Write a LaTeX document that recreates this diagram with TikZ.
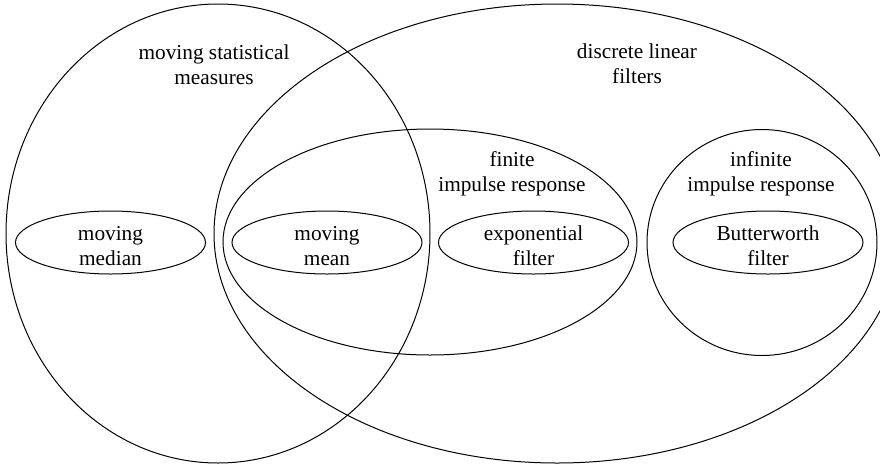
\documentclass[tikz,border=0pt]{standalone}
\usepackage{fontspec}
\setmainfont{Liberation Serif}
\usetikzlibrary{shapes.geometric}
\tikzstyle{set} = [ellipse, draw=black, line width=0.5pt, inner sep=0pt]
\tikzstyle{method} = [set, minimum width=95pt, minimum height=31.5pt]
\tikzstyle{lbl} = [align=center, font=\fontsize{10.65}{12.6}\selectfont, inner sep=0pt]

\begin{document}
\begin{tikzpicture}[x=0.5pt, y=-0.5pt]
            \useasboundingbox (0,0) rectangle (880,468);
            \clip (0,0) rectangle (880,468);
            % outer sets
            \node[set, minimum width=212pt, minimum height=229.5pt] (stat) at (218,233.5) {};
            \node[set, minimum width=343pt, minimum height=229.5pt] (lin) at (557,233.5) {};
            % filter classes
            \node[set, minimum width=207pt, minimum height=113pt] (fir) at (430,242) {};
            \node[set, minimum width=115pt, minimum height=113pt] (iir) at (762,242.5) {};
            % methods
            \node[method] (median) at (110.5,242.5) {};
            \node[method] (mean) at (327,242.5) {};
            \node[method] (expo) at (533.5,242.5) {};
            \node[method] (butter) at (768,242.5) {};
            
            \node[lbl] (statlbl) at (214,65) {moving statistical\\measures};
            \node[lbl] (linlbl) at (637,64) {discrete linear\\filters};
            \node[lbl] (firlbl) at (512,174) {finite\\impulse response};
            \node[lbl] (iirlbl) at (761,174) {infinite\\impulse response};
            \node[lbl] (medianlbl) at (110.5,246) {moving\\median};
            \node[lbl] (meanlbl) at (327,246) {moving\\mean};
            \node[lbl] (expolbl) at (533.5,246) {exponential\\filter};
            \node[lbl] (butterlbl) at (768,246) {Butterworth\\filter};
            \end{tikzpicture}
\end{document}
